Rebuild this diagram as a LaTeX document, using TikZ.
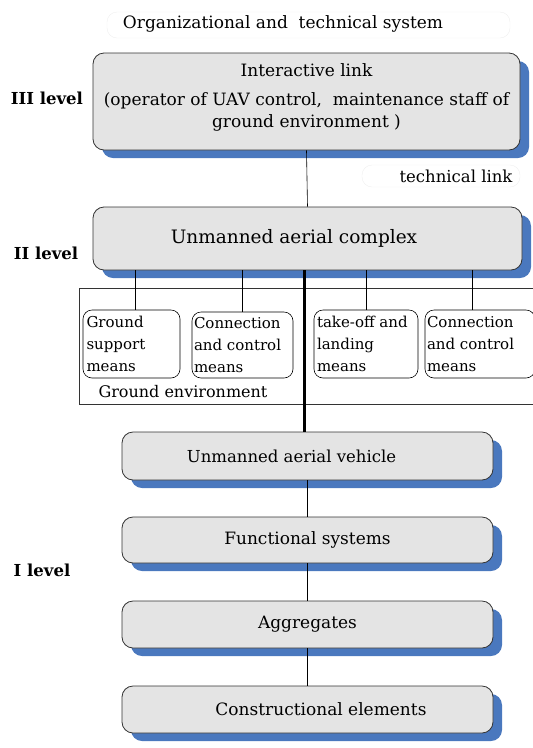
\documentclass[tikz,border=0pt]{standalone}
\usepackage{fontspec}
\setmainfont{DejaVu Serif}
\usetikzlibrary{shadows}
\definecolor{shadowblue}{HTML}{4A78BE}
\definecolor{boxgray}{HTML}{E4E4E4}
\newcommand{\meanstext}[2]{\parbox{#1}{\fontsize{15}{22}\selectfont #2}}
\tikzset{
  levelbox/.style={draw=black!80, thick, fill=boxgray, rounded corners=11pt,
    general shadow={fill=shadowblue, shadow xshift=9pt, shadow yshift=-8pt}},
  meansbox/.style={draw, semithick, rounded corners=9pt, inner xsep=2pt, inner ysep=1pt},
  faintbox/.style={draw=black!6, rounded corners=10pt, fill=white},
  levellabel/.style={font=\bfseries\fontsize{16.5}{18}\selectfont}
}
\begin{document}
\begin{tikzpicture}[x=1pt,y=-1pt]
  \useasboundingbox (0,0) rectangle (533,748);
  \clip (0,0) rectangle (533,748);
  % Titel und Ebenen
  \draw[faintbox] (107,12) rectangle (510,38);
  \node[font=\fontsize{17}{19}\selectfont] (title) at (283,24) {Organizational and \ technical system};
  \node[levellabel] (lev3) at (47,98) {III level};
  \node[levellabel] (lev2) at (46,253) {II level};
  \node[levellabel] (lev1) at (42,570) {I level};
  % III Ebene
  \node[levelbox, minimum width=427pt, minimum height=97pt,
    font=\fontsize{17}{22}\selectfont] (inter) at (306.5,101.5)
    {\raisebox{4pt}[\height][\depth]{\begin{tabular}{@{}c@{}}Interactive link\\[7pt](operator of UAV control, \ maintenance staff of\\ground environment )\end{tabular}}};
  \draw[faintbox] (362,165) rectangle (520,187);
  \node[font=\fontsize{16.5}{18}\selectfont] (tlink) at (456,176) {technical link};
  % II Ebene
  \node[levelbox, minimum width=429pt, minimum height=63pt,
    font=\fontsize{18.5}{21}\selectfont] (complex) at (307.5,238.5) {Unmanned aerial complex\hspace*{27pt}};
  \draw[thin, black!80] (79,288) rectangle (545,404);
  \node[font=\fontsize{16}{18}\selectfont, anchor=west] (ground) at (95,392) {Ground environment};
  \node[meansbox, minimum width=97pt, minimum height=68pt] (gs) at (131.5,344) {\meanstext{90pt}{Ground\\support\\means}};
  \node[meansbox, minimum width=101pt, minimum height=66pt] (cc1) at (242.5,345) {\meanstext{97pt}{Connection\\and control\\means}};
  \node[meansbox, minimum width=104pt, minimum height=68pt] (tl) at (366,344) {\meanstext{98pt}{take-off and\\landing\\means}};
  \node[meansbox, minimum width=110pt, minimum height=68pt] (cc2) at (480,344) {\meanstext{106pt}{Connection\\and control\\means}};
  % I Ebene
  \node[levelbox, minimum width=371pt, minimum height=48pt,
    font=\fontsize{16.5}{19}\selectfont] (uav) at (307.5,456) {Unmanned aerial vehicle\hspace*{32pt}};
  \node[levelbox, minimum width=371pt, minimum height=46pt,
    font=\fontsize{17}{19}\selectfont] (func) at (307.5,540) {Functional systems};
  \node[levelbox, minimum width=371pt, minimum height=47pt,
    font=\fontsize{17}{19}\selectfont] (aggr) at (307.5,624.5) {Aggregates};
  \node[levelbox, minimum width=371pt, minimum height=47pt,
    font=\fontsize{17}{19}\selectfont] (constr) at (307.5,709.5) {\hspace*{27pt}Constructional elements};
  % Verbindungen
  \draw[semithick] (inter.south) -- (complex.north);
  \draw ([xshift=4pt]gs.north |- complex.south) -- ([xshift=4pt]gs.north);
  \draw (cc1.north |- complex.south) -- (cc1.north);
  \draw (tl.north |- complex.south) -- (tl.north);
  \draw ([xshift=-8pt]cc2.north |- complex.south) -- ([xshift=-8pt]cc2.north);
  \draw[line width=2.5pt] ([xshift=-3pt]complex.south) -- ([xshift=-3pt]uav.north);
  \draw (uav) -- (func);
  \draw (func) -- (aggr);
  \draw (aggr) -- (constr);
\end{tikzpicture}
\end{document}
